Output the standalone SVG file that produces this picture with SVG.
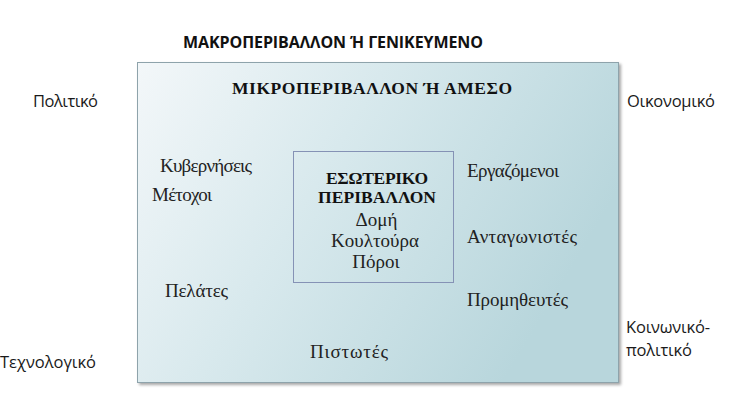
<svg xmlns="http://www.w3.org/2000/svg" width="741" height="405" viewBox="0 0 741 405">
  <style>
    .sans { font-family: "Open Sans", "Liberation Sans", sans-serif; font-size: 16.5px; fill: #1a1a1a; }
    .title { font-family: "Open Sans", "Liberation Sans", sans-serif; font-size: 16px; font-weight: bold; fill: #111; }
    .serif { font-family: "Liberation Serif", "DejaVu Serif", serif; font-size: 19px; fill: #222; }
    .serifb { font-family: "Liberation Serif", "DejaVu Serif", serif; font-size: 17.5px; font-weight: bold; fill: #111; }
    .inner { font-family: "Liberation Serif", "DejaVu Serif", serif; font-size: 19px; fill: #222; }
  </style>
  <defs>
    <linearGradient id="bg" x1="0" y1="0" x2="1" y2="0.4">
      <stop offset="0" stop-color="#f3f7f9"/>
      <stop offset="0.45" stop-color="#d8e9ed"/>
      <stop offset="1" stop-color="#b8d6dc"/>
    </linearGradient>
    <filter id="shadow" x="-5%" y="-5%" width="110%" height="110%">
      <feGaussianBlur in="SourceAlpha" stdDeviation="1.5"/>
      <feOffset dx="1.5" dy="2" result="b"/>
      <feComponentTransfer><feFuncA type="linear" slope="0.35"/></feComponentTransfer>
      <feMerge><feMergeNode/><feMergeNode in="SourceGraphic"/></feMerge>
    </filter>
  </defs>
  <rect width="741" height="405" fill="#ffffff"/>

  <g id="macro">
    <text class="title" x="183" y="48" textLength="300">ΜΑΚΡΟΠΕΡΙΒΑΛΛΟΝ Ή ΓΕΝΙΚΕΥΜΕΝΟ</text>
    <text class="sans" x="33" y="107" textLength="65">Πολιτικό</text>
    <text class="sans" x="627" y="107" textLength="88">Οικονομικό</text>
    <text class="sans" x="626" y="333" textLength="84">Κοινωνικό-</text>
    <text class="sans" x="626" y="356" textLength="66">πολιτικό</text>
    <text class="sans" x="0" y="368" textLength="96">Τεχνολογικό</text>
  </g>

  <g id="micro">
    <rect x="137.5" y="62.5" width="481" height="320" fill="url(#bg)" stroke="#8ea3ab" stroke-width="1" filter="url(#shadow)"/>
    <text class="serifb" x="232" y="94" textLength="280">ΜΙΚΡΟΠΕΡΙΒΑΛΛΟΝ Ή ΑΜΕΣΟ</text>
    <text class="serif" x="160" y="172" textLength="92">Κυβερνήσεις</text>
    <text class="serif" x="152" y="201" textLength="60">Μέτοχοι</text>
    <text class="serif" x="165" y="297" textLength="63">Πελάτες</text>
    <text class="serif" x="467" y="177" textLength="92">Εργαζόμενοι</text>
    <text class="serif" x="467" y="243" textLength="110">Ανταγωνιστές</text>
    <text class="serif" x="467" y="306" textLength="101">Προμηθευτές</text>
    <text class="serif" x="310" y="358" textLength="78">Πιστωτές</text>
  </g>

  <g id="internal">
    <rect x="293.5" y="151.5" width="160" height="131" fill="none" stroke="#8592b5" stroke-width="1"/>
    <text class="serifb" x="326" y="184" textLength="102">ΕΣΩΤΕΡΙΚΟ</text>
    <text class="serifb" x="318" y="203" textLength="118">ΠΕΡΙΒΑΛΛΟΝ</text>
    <text class="inner" x="376.5" y="226" text-anchor="middle">Δομή</text>
    <text class="inner" x="375" y="247" text-anchor="middle">Κουλτούρα</text>
    <text class="inner" x="376" y="268" text-anchor="middle">Πόροι</text>
  </g>

  <g id="connectors"></g>
</svg>
